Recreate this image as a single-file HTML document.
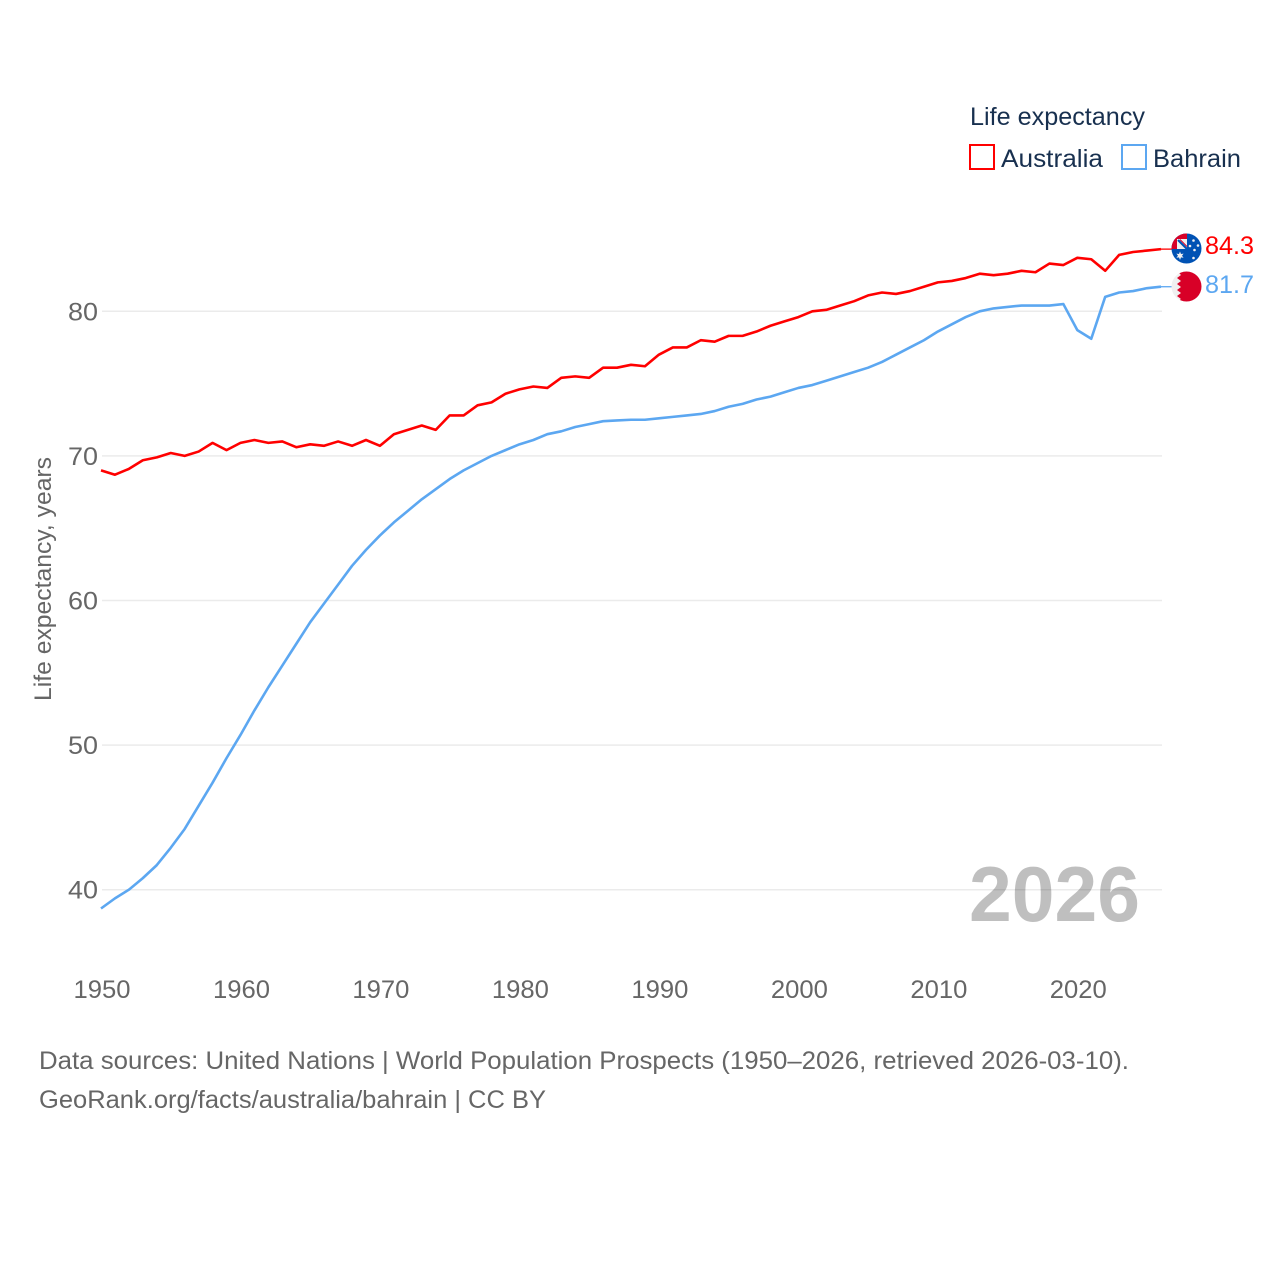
<!DOCTYPE html>
<html lang="en">
<head>
<meta charset="utf-8">
<title>Life expectancy: Australia and Bahrain</title>
<style>
html,body{margin:0;padding:0;background:#fff}
svg{display:block}
text{font-family:"Liberation Sans",sans-serif}
</style>
</head>
<body>
<svg id="chart" xmlns="http://www.w3.org/2000/svg" width="1280" height="1280" viewBox="0 0 1280 1280">
  <defs>
    <clipPath id="flag-clip-au"><circle cx="1186.5" cy="248.5" r="15"/></clipPath>
    <clipPath id="flag-clip-bh"><circle cx="1186.5" cy="286.5" r="15"/></clipPath>
  </defs>
  <rect width="1280" height="1280" fill="#fff"/>
  <g id="grid"></g>
  <g id="y-ticks"></g>
  <g id="x-ticks"></g>
  <text transform="translate(51,579) rotate(-90)" text-anchor="middle" font-size="24" fill="#666" textLength="244" lengthAdjust="spacingAndGlyphs">Life expectancy, years</text>
  <text x="969" y="921" font-size="78" font-weight="700" fill="#000" fill-opacity="0.25" textLength="171" lengthAdjust="spacingAndGlyphs">2026</text>
  <g id="series"></g>

  <g>
    <text x="970" y="125" font-size="25" fill="#18304f" textLength="175" lengthAdjust="spacingAndGlyphs">Life expectancy</text>
    <rect x="970" y="145" width="24" height="24" fill="#fff" stroke="#ff0000" stroke-width="2"/>
    <text x="1001" y="167" font-size="25" fill="#18304f" textLength="102" lengthAdjust="spacingAndGlyphs">Australia</text>
    <rect x="1122" y="145" width="24" height="24" fill="#fff" stroke="#5ca7f1" stroke-width="2"/>
    <text x="1153" y="167" font-size="25" fill="#18304f" textLength="88" lengthAdjust="spacingAndGlyphs">Bahrain</text>
  </g>

  <g clip-path="url(#flag-clip-au)">
    <rect x="1171" y="233" width="31" height="31" fill="#0052b4"/>
    <rect x="1171" y="233" width="16" height="16" fill="#d80027"/>
    <rect x="1177" y="239" width="10" height="10" fill="#f0f0f0"/>
    <path d="M1178 240 L1187 249" stroke="#0052b4" stroke-width="2.2" fill="none"/>
    <path d="M1180 239.5 L1187 246.5" stroke="#d80027" stroke-width="1" fill="none"/>
    <polygon points="1180,251.5 1181,254 1183.6,253.6 1182,255.7 1183.6,257.8 1181,257.4 1180,260 1179,257.4 1176.4,257.8 1178,255.7 1176.4,253.6 1179,254" fill="#f0f0f0"/>
    <circle cx="1193.5" cy="240.5" r="1.3" fill="#f0f0f0"/>
    <circle cx="1198" cy="245.5" r="1.3" fill="#f0f0f0"/>
    <circle cx="1190" cy="246" r="1.3" fill="#f0f0f0"/>
    <circle cx="1194.5" cy="250" r="1.3" fill="#f0f0f0"/>
    <circle cx="1193.5" cy="258" r="1.3" fill="#f0f0f0"/>
  </g>
  <g clip-path="url(#flag-clip-bh)">
    <rect x="1171" y="271" width="31" height="31" fill="#f0f0f0"/>
    <polygon points="1177,271 1202,271 1202,302 1177,302 1181,299 1177,296 1181,293 1177,290 1181,287 1177,284 1181,281 1177,278 1181,275" fill="#d80027"/>
  </g>

  <text x="1205" y="254" font-size="25" fill="#ff0000" textLength="49" lengthAdjust="spacingAndGlyphs">84.3</text>
  <text x="1205" y="293" font-size="25" fill="#5ca7f1" textLength="49" lengthAdjust="spacingAndGlyphs">81.7</text>

  <text x="39" y="1069" font-size="25" fill="#666" textLength="1090" lengthAdjust="spacingAndGlyphs">Data sources: United Nations | World Population Prospects (1950–2026, retrieved 2026-03-10).</text>
  <text x="39" y="1108" font-size="25" fill="#666" textLength="507" lengthAdjust="spacingAndGlyphs">GeoRank.org/facts/australia/bahrain | CC BY</text>
</svg>
<script>
const years = [1950,1951,1952,1953,1954,1955,1956,1957,1958,1959,1960,1961,1962,1963,1964,1965,1966,1967,1968,1969,1970,1971,1972,1973,1974,1975,1976,1977,1978,1979,1980,1981,1982,1983,1984,1985,1986,1987,1988,1989,1990,1991,1992,1993,1994,1995,1996,1997,1998,1999,2000,2001,2002,2003,2004,2005,2006,2007,2008,2009,2010,2011,2012,2013,2014,2015,2016,2017,2018,2019,2020,2021,2022,2023,2024,2025,2026];
const australia = [69.0,68.7,69.1,69.7,69.9,70.2,70.0,70.3,70.9,70.4,70.9,71.1,70.9,71.0,70.6,70.8,70.7,71.0,70.7,71.1,70.7,71.5,71.8,72.1,71.8,72.8,72.8,73.5,73.7,74.3,74.6,74.8,74.7,75.4,75.5,75.4,76.1,76.1,76.3,76.2,77.0,77.5,77.5,78.0,77.9,78.3,78.3,78.6,79.0,79.3,79.6,80.0,80.1,80.4,80.7,81.1,81.3,81.2,81.4,81.7,82.0,82.1,82.3,82.6,82.5,82.6,82.8,82.7,83.3,83.2,83.7,83.6,82.8,83.9,84.1,84.2,84.3];
const bahrain = [38.7,39.4,40.0,40.8,41.7,42.9,44.2,45.8,47.4,49.1,50.7,52.4,54.0,55.5,57.0,58.5,59.8,61.1,62.4,63.5,64.5,65.4,66.2,67.0,67.7,68.4,69.0,69.5,70.0,70.4,70.8,71.1,71.5,71.7,72.0,72.2,72.4,72.45,72.5,72.5,72.6,72.7,72.8,72.9,73.1,73.4,73.6,73.9,74.1,74.4,74.7,74.9,75.2,75.5,75.8,76.1,76.5,77.0,77.5,78.0,78.6,79.1,79.6,80.0,80.2,80.3,80.4,80.4,80.4,80.5,78.7,78.1,81.0,81.3,81.4,81.6,81.7];
const yTickValues = [40,50,60,70,80];
const xTickValues = [1950,1960,1970,1980,1990,2000,2010,2020];

const NS = 'http://www.w3.org/2000/svg';
const plotLeft = 101, plotRight = 1161;
function xScale(year) { return plotLeft + (year - 1950) * (plotRight - plotLeft) / (2026 - 1950); }
function yScale(v) { return 311.3 + (80 - v) * 14.46; }

const gridGroup = document.getElementById('grid');
const yGroup = document.getElementById('y-ticks');
const xGroup = document.getElementById('x-ticks');
const seriesGroup = document.getElementById('series');

yTickValues.forEach(function (v) {
  const g = document.createElementNS(NS, 'line');
  
  
  g.setAttribute('x1', plotLeft + 1);
  g.setAttribute('x2', plotRight + 1);
  g.setAttribute('y1', yScale(v));
  g.setAttribute('y2', yScale(v));
  g.setAttribute('stroke', '#ebebeb');
  g.setAttribute('stroke-width', '1.5');
  gridGroup.appendChild(g);

  const t = document.createElementNS(NS, 'text');
  
  
  t.setAttribute('x', 98);
  t.setAttribute('y', yScale(v) + 9);
  t.setAttribute('text-anchor', 'end');
  t.setAttribute('font-size', '25');
  t.setAttribute('fill', '#666');
  t.setAttribute('textLength', '30');
  t.setAttribute('lengthAdjust', 'spacingAndGlyphs');
  t.textContent = String(v);
  yGroup.appendChild(t);
});

xTickValues.forEach(function (year) {
  const t = document.createElementNS(NS, 'text');
  
  
  t.setAttribute('x', xScale(year) + 1);
  t.setAttribute('y', 998);
  t.setAttribute('text-anchor', 'middle');
  t.setAttribute('font-size', '25');
  t.setAttribute('fill', '#666');
  t.setAttribute('textLength', '57');
  t.setAttribute('lengthAdjust', 'spacingAndGlyphs');
  t.textContent = String(year);
  xGroup.appendChild(t);
});

function drawSeries(values, color, name) {
  const d = values.map(function (v, i) {
    return (i ? 'L' : 'M') + xScale(years[i]).toFixed(2) + ' ' + yScale(v).toFixed(2);
  }).join(' ');
  const p = document.createElementNS(NS, 'path');
  
  
  p.setAttribute('d', d);
  p.setAttribute('fill', 'none');
  p.setAttribute('stroke', color);
  p.setAttribute('stroke-width', '2.6');
  p.setAttribute('stroke-linejoin', 'round');
  seriesGroup.appendChild(p);

  const last = yScale(values[values.length - 1]);
  const c = document.createElementNS(NS, 'line');
  
  
  c.setAttribute('x1', plotRight);
  c.setAttribute('x2', plotRight + 11);
  c.setAttribute('y1', last);
  c.setAttribute('y2', last);
  c.setAttribute('stroke', color);
  c.setAttribute('stroke-width', '1.3');
  seriesGroup.appendChild(c);
}
drawSeries(australia, '#ff0000', 'australia');
drawSeries(bahrain, '#5ca7f1', 'bahrain');
</script>
</body>
</html>
